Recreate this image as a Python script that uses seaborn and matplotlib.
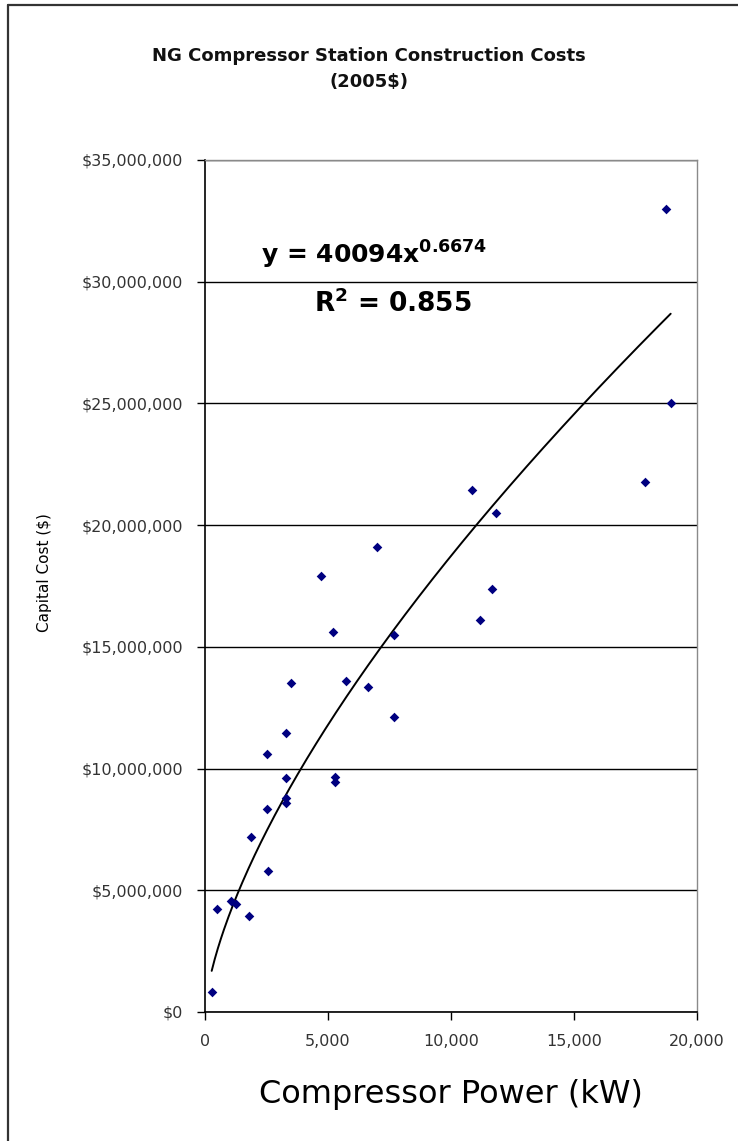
import numpy as np
import pandas as pd
import matplotlib
matplotlib.use("Agg")
import matplotlib.pyplot as plt
import seaborn as sns
from matplotlib.ticker import FuncFormatter
from matplotlib.lines import Line2D

# ---- data ----
power_kw = [272, 500, 1050, 1250, 1800, 1857, 2507, 2507, 2575, 3280,
            3280, 3280, 3280, 3496, 4715, 5200, 5285, 5285, 5720, 6640,
            6990, 7680, 7680, 10840, 11180, 11680, 11815, 17890, 18740, 18930]
capital_cost = [0.82e6, 4.22e6, 4.55e6, 4.45e6, 3.94e6, 7.2e6, 8.33e6, 10.6e6, 5.78e6, 8.6e6,
                8.8e6, 9.61e6, 11.45e6, 13.5e6, 17.9e6, 15.6e6, 9.46e6, 9.67e6, 13.59e6, 13.37e6,
                19.1e6, 15.48e6, 12.13e6, 21.43e6, 16.12e6, 17.39e6, 20.5e6, 21.77e6, 32.98e6, 25.03e6]
fit_coef = 40094
fit_exp = 0.6674
fit_r2 = 0.855
x_ticks = [0, 5000, 10000, 15000, 20000]
y_ticks = [0, 5e6, 10e6, 15e6, 20e6, 25e6, 30e6, 35e6]

title_text = "NG Compressor Station Construction Costs\n(2005$)"
x_label = "Compressor Power (kW)"
y_label = "Capital Cost ($)"

sns.set_style("white")
plt.rcParams["font.family"] = ["DejaVu Sans"]
plt.rcParams["mathtext.fontset"] = "dejavusans"

W, H = 738, 1141
fig = plt.figure(figsize=(W / 100, H / 100), dpi=100)
fig.patch.set_facecolor("white")

L, R, T, B = 205, 697, 160, 1012
ax = fig.add_axes([L / W, 1 - B / H, (R - L) / W, (B - T) / H])

df = pd.DataFrame({"power": power_kw, "cost": capital_cost})
fit_x = np.linspace(min(power_kw), max(power_kw), 300)
fit_df = pd.DataFrame({"power": fit_x, "cost": fit_coef * fit_x ** fit_exp})

sns.lineplot(data=fit_df, x="power", y="cost", ax=ax, color="black", lw=1.4, zorder=3)
sns.scatterplot(data=df, x="power", y="cost", ax=ax, marker="D", color="#000080",
                s=24, linewidth=0, zorder=4)

ax.set_xlim(0, 20000)
ax.set_ylim(0, 35e6)
ax.set_xticks(x_ticks)
ax.set_yticks(y_ticks)
ax.xaxis.set_major_formatter(FuncFormatter(lambda v, p: f"{v:,.0f}"))
ax.yaxis.set_major_formatter(FuncFormatter(lambda v, p: f"${v:,.0f}"))
ax.tick_params(axis="both", direction="out", length=6, width=1.0, color="black",
               labelsize=11.5, labelcolor="#333333", pad=10)
ax.tick_params(axis="y", left=True)
ax.tick_params(axis="x", bottom=True)

ax.yaxis.grid(True, color="black", lw=1.0)
ax.xaxis.grid(False)
ax.set_axisbelow(True)
for s in ["left", "bottom"]:
    ax.spines[s].set_color("black")
    ax.spines[s].set_linewidth(1.2)
for s in ["top", "right"]:
    ax.spines[s].set_color("#8a8a8a")
    ax.spines[s].set_linewidth(1.0)

ax.set_xlabel("")
ax.set_ylabel("")
fig.text(451 / W, 1 - 1094 / H, x_label, ha="center", va="center", fontsize=23, color="black")
fig.text(45 / W, 1 - 573 / H, y_label, ha="center", va="center", rotation=90, fontsize=11, color="black")
fig.text(369 / W, 1 - 69 / H, title_text, ha="center", va="center", fontsize=13,
         fontweight="bold", color="#111111", linespacing=1.6)

ax.text(6870, 31.1e6, "y = %dx$^{\\mathbf{%s}}$" % (fit_coef, fit_exp), ha="center", va="center",
        fontsize=18, fontweight="bold", color="black")
ax.text(7640, 29.1e6, "R$^{\\mathbf{2}}$ = %s" % fit_r2, ha="center", va="center",
        fontsize=19, fontweight="bold", color="black")

# chart area border (left and top edges visible in the reference)
fig.add_artist(Line2D([8 / W, 8 / W], [0, 1 - 5 / H], transform=fig.transFigure, color="#333333", lw=1.6))
fig.add_artist(Line2D([8 / W, 1], [1 - 5 / H, 1 - 5 / H], transform=fig.transFigure, color="#333333", lw=1.6))

fig.savefig("out.png", dpi=100, facecolor="white")
